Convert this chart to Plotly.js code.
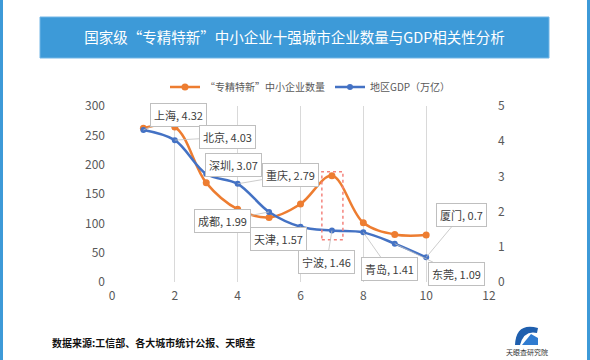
<!DOCTYPE html>
<html><head><meta charset="utf-8">
<script src="https://cdn.plot.ly/plotly-3.0.1.min.js"></script>
<style>html,body{margin:0;padding:0;background:#fff}#chart{width:590px;height:360px}</style>
</head><body><div id="chart"></div>
<script>
const xs = [1,2,3,4,5,6,7,8,9,10];
const cities = ['上海','北京','深圳','重庆','成都','天津','宁波','青岛','东莞','厦门'];
const firms = [262,264,169,124,110,133,181,101,81,80];
const gdp = [4.32,4.03,3.07,2.79,1.99,1.57,1.46,1.41,1.09,0.7];
const xTicks = [0,2,4,6,8,10,12];
const leftTicks = [0,50,100,150,200,250,300];
const rightTicks = [0,1,2,3,4,5];
const labelOffsets = [[35,-15],[53,-3],[27,-9],[53,-9],[-47,9],[-22,12],[-5,31],[26,37],[62,30],[35,-42]];

const F = 'Noto Sans CJK SC, sans-serif';
const L = 112, T = 106, W = 377, H = 176;
const px = v => (v - L) / W;
const py = v => (T + H - v) / H;

const traces = [
  {x: xs, y: firms, name: '“专精特新”中小企业数量', type: 'scatter', mode: 'lines+markers',
   line: {color: '#ed7d31', width: 2.5, shape: 'spline', smoothing: 1}, marker: {color: '#ed7d31', size: 7}},
  {x: xs, y: gdp, name: '地区GDP（万亿）', yaxis: 'y2', type: 'scatter', mode: 'lines+markers',
   line: {color: '#4472c4', width: 2.5, shape: 'spline', smoothing: 1}, marker: {color: '#4472c4', size: 6}}
];

const annotations = xs.map((x, i) => ({
  x: x, y: gdp[i], xref: 'x', yref: 'y2', text: cities[i] + ', ' + gdp[i],
  showarrow: true, arrowhead: 0, arrowwidth: 0.8, arrowcolor: '#bfbfbf',
  ax: labelOffsets[i][0], ay: labelOffsets[i][1],
  bgcolor: '#ffffff', bordercolor: '#bfbfbf', borderwidth: 1, borderpad: 3,
  font: {family: F, size: 11, color: '#404040'}
}));
annotations.push({
  text: '<b>数据来源:工信部、各大城市统计公报、天眼查</b>', xref: 'paper', yref: 'paper',
  x: px(50), y: py(342), xanchor: 'left', yanchor: 'middle', showarrow: false,
  font: {family: F, size: 10, color: '#111'}
});
annotations.push({
  text: '天眼查研究院', xref: 'paper', yref: 'paper', x: px(527), y: py(352),
  xanchor: 'center', yanchor: 'middle', showarrow: false,
  font: {family: F, size: 7, color: '#333'}
});

const shapes = [
  {type: 'rect', xref: 'paper', yref: 'paper', x0: px(40), x1: px(549), y0: py(58), y1: py(17),
   fillcolor: '#3d9ad8', line: {color: '#72b6e6', width: 1}, layer: 'below'},
  {type: 'line', xref: 'paper', yref: 'paper', x0: px(1.5), x1: px(1.5), y0: py(0), y1: py(360),
   line: {color: '#3d9ad8', width: 3}},
  {type: 'line', xref: 'paper', yref: 'paper', x0: px(588.5), x1: px(588.5), y0: py(0), y1: py(360),
   line: {color: '#3d9ad8', width: 3}},
  {type: 'rect', xref: 'x', yref: 'y', x0: 6.68, x1: 7.35, y0: 72, y1: 188,
   line: {color: '#f4837d', width: 1.5, dash: 'dot'}},
  {type: 'path', xref: 'paper', yref: 'paper',
   path: `M ${px(515)} ${py(345)} Q ${px(516)} ${py(322)} ${px(538)} ${py(328)} L ${px(537)} ${py(333)} Q ${px(524)} ${py(330)} ${px(520)} ${py(345)} Z`,
   fillcolor: '#1f5fae', line: {width: 0}},
  {type: 'path', xref: 'paper', yref: 'paper',
   path: `M ${px(522)} ${py(345)} L ${px(531)} ${py(334)} L ${px(538)} ${py(338)} L ${px(538)} ${py(345)} Z`,
   fillcolor: '#2f7bd0', line: {width: 0}}
];

const layout = {
  width: 590, height: 360,
  margin: {l: L, r: 590 - L - W, t: T, b: 360 - T - H},
  paper_bgcolor: '#ffffff', plot_bgcolor: '#ffffff',
  font: {family: F, color: '#595959'},
  title: {text: '国家级“专精特新”中小企业十强城市企业数量与GDP相关性分析',
    x: px(294.5), xref: 'paper', xanchor: 'center', y: 1 - 37.5/360, yref: 'container', yanchor: 'middle',
    font: {family: F, size: 14.5, color: '#ffffff'}},
  showlegend: true,
  legend: {orientation: 'h', x: px(165), y: py(87), xanchor: 'left', yanchor: 'middle',
    font: {family: F, size: 10, color: '#595959'}, tracegroupgap: 0, bgcolor: 'rgba(0,0,0,0)'},
  xaxis: {range: [0, 12], tickvals: xTicks, ticktext: xTicks.map(String), showgrid: true,
    gridcolor: '#d9d9d9', gridwidth: 1, zeroline: false, showline: false, ticks: '', ticklabelstandoff: 5,
    tickfont: {family: F, size: 12, color: '#595959'}},
  yaxis: {range: [0, 300], tickvals: leftTicks, ticktext: leftTicks.map(String), showgrid: false,
    zeroline: false, showline: false, ticks: '', ticklabelstandoff: 6, tickfont: {family: F, size: 12, color: '#595959'}},
  yaxis2: {range: [0, 5], tickvals: rightTicks, ticktext: rightTicks.map(String), overlaying: 'y', side: 'right',
    showgrid: false, zeroline: false, showline: false, ticks: '', ticklabelstandoff: 8,
    tickfont: {family: F, size: 12, color: '#595959'}},
  annotations: annotations,
  shapes: shapes
};

Plotly.newPlot('chart', traces, layout, {displayModeBar: false, staticPlot: true});
</script>
</body></html>
